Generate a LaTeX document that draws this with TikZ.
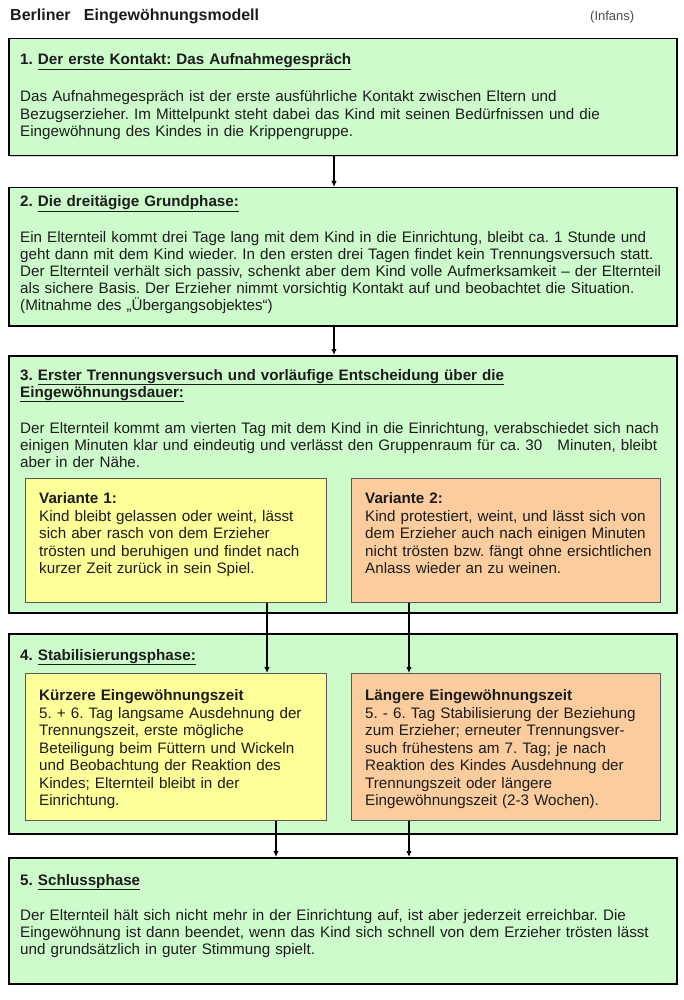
\documentclass[tikz,border=0pt]{standalone}
\usepackage{fontspec}
\setmainfont{Liberation Sans}
\usetikzlibrary{arrows.meta,calc,shadows}
\definecolor{boxgreen}{HTML}{CDFBCB}
\definecolor{boxyellow}{HTML}{FFFF99}
\definecolor{boxorange}{HTML}{FACC9E}
\definecolor{txtcol}{HTML}{1C1C1C}
\frenchspacing
\newcommand\hdline[1]{\leavevmode\vtop{\hbox{\vrule height 0pt depth 3.6pt width 0pt #1}\kern0.2pt\hrule height 1.1pt}}
\tikzset{
  outerbox/.style={draw=black, line width=1.5pt, fill=boxgreen, inner sep=0pt, anchor=north west,
    drop shadow={shadow xshift=1.2pt, shadow yshift=-1.2pt, opacity=0.35}},
  yelbox/.style={draw=black!65, line width=1pt, fill=boxyellow, inner sep=0pt, anchor=north west},
  orabox/.style={draw=black!65, line width=1pt, fill=boxorange, inner sep=0pt, anchor=north west},
  bodytxt/.style={anchor=base west, inner sep=0pt, align=left, text width=650pt, text=txtcol,
    font=\fontsize{15.2}{17.2}\selectfont},
  innertxt/.style={bodytxt, text width=305pt, font=\fontsize{15.2}{17.5}\selectfont},
  headtxt/.style={bodytxt, font=\bfseries\fontsize{15.2}{17.2}\selectfont},
  innerhead/.style={innertxt, font=\bfseries\fontsize{15.2}{17.5}\selectfont},
  arr/.style={line width=2pt, -{Latex[length=6pt,width=5.5pt]}}
}
\begin{document}
\begin{tikzpicture}[x=1pt,y=-1pt]
\useasboundingbox[fill=white] (0,0) rectangle (684,1000);
% title
\node[anchor=base west, inner sep=0pt, text=txtcol, font=\bfseries\fontsize{16}{19}\selectfont] (title) at (10,21) {Berliner\ \ \ Eingewöhnungsmodell};
\node[anchor=base west, inner sep=0pt, text=black!70, font=\fontsize{13}{15}\selectfont] (infans) at (590,21) {(Infans)};
% outer boxes
\node[outerbox, minimum width=668pt, minimum height=117pt] (b1) at (8,38) {};
\node[outerbox, minimum width=668pt, minimum height=138pt] (b2) at (8,187) {};
\node[outerbox, minimum width=668pt, minimum height=257pt] (b3) at (8,355) {};
\node[outerbox, minimum width=668pt, minimum height=200pt] (b4) at (8,633) {};
\node[outerbox, minimum width=668pt, minimum height=126pt] (b5) at (8,857) {};
% inner boxes
\node[yelbox, minimum width=301pt, minimum height=124pt] (v1) at (25,478) {};
\node[orabox, minimum width=309pt, minimum height=124pt] (v2) at (351,478) {};
\node[yelbox, minimum width=301pt, minimum height=147pt] (k1) at (25,673) {};
\node[orabox, minimum width=309pt, minimum height=147pt] (k2) at (351,673) {};
% box 1
\node[headtxt] (h1) at (20,65) {1. \hdline{Der erste Kontakt: Das Aufnahmegespräch}};
\node[bodytxt] (t1) at (20,102) {Das Aufnahmegespräch ist der erste ausführliche Kontakt zwischen Eltern und\\
Bezugserzieher. Im Mittelpunkt steht dabei das Kind mit seinen Bedürfnissen und die\\
Eingewöhnung des Kindes in die Krippengruppe.};
% box 2
\node[headtxt] (h2) at (20,207) {2. \hdline{Die dreitägige Grundphase:}};
\node[bodytxt] (t2) at (20,242) {Ein Elternteil kommt drei Tage lang mit dem Kind in die Einrichtung, bleibt ca. 1 Stunde und\\
geht dann mit dem Kind wieder. In den ersten drei Tagen findet kein Trennungsversuch statt.\\
Der Elternteil verhält sich passiv, schenkt aber dem Kind volle Aufmerksamkeit – der Elternteil\\
als sichere Basis. Der Erzieher nimmt vorsichtig Kontakt auf und beobachtet die Situation.\\
(Mitnahme des „Übergangsobjektes“)};
% box 3
\node[headtxt] (h3) at (20,380) {3. \hdline{Erster Trennungsversuch und vorläufige Entscheidung über die}\\
\hdline{Eingewöhnungsdauer:}};
\node[bodytxt] (t3) at (20,433) {Der Elternteil kommt am vierten Tag mit dem Kind in die Einrichtung, verabschiedet sich nach\\
einigen Minuten klar und eindeutig und verlässt den Gruppenraum für ca. 30\ \ \ Minuten, bleibt\\
aber in der Nähe.};
\node[innerhead] (vh1) at (39,503) {Variante 1:};
\node[innertxt] (vt1) at (39,521) {Kind bleibt gelassen oder weint, lässt\\
sich aber rasch von dem Erzieher\\
trösten und beruhigen und findet nach\\
kurzer Zeit zurück in sein Spiel.};
\node[innerhead] (vh2) at (365,503) {Variante 2:};
\node[innertxt] (vt2) at (365,521) {Kind protestiert, weint, und lässt sich von\\
dem Erzieher auch nach einigen Minuten\\
nicht trösten bzw. fängt ohne ersichtlichen\\
Anlass wieder an zu weinen.};
% box 4
\node[headtxt] (h4) at (20,660) {4. \hdline{Stabilisierungsphase:}};
\node[innerhead] (kh1) at (39,700) {Kürzere Eingewöhnungszeit};
\node[innertxt] (kt1) at (39,718) {5. + 6. Tag langsame Ausdehnung der\\
Trennungszeit, erste mögliche\\
Beteiligung beim Füttern und Wickeln\\
und Beobachtung der Reaktion des\\
Kindes; Elternteil bleibt in der\\
Einrichtung.};
\node[innerhead] (kh2) at (365,700) {Längere Eingewöhnungszeit};
\node[innertxt] (kt2) at (365,718) {5. - 6. Tag Stabilisierung der Beziehung\\
zum Erzieher; erneuter Trennungsver-\\
such frühestens am 7. Tag; je nach\\
Reaktion des Kindes Ausdehnung der\\
Trennungszeit oder längere\\
Eingewöhnungszeit (2-3 Wochen).};
% box 5
\node[headtxt] (h5) at (20,885) {5. \hdline{Schlussphase}};
\node[bodytxt] (t5) at (20,920) {Der Elternteil hält sich nicht mehr in der Einrichtung auf, ist aber jederzeit erreichbar. Die\\
Eingewöhnung ist dann beendet, wenn das Kind sich schnell von dem Erzieher trösten lässt\\
und grundsätzlich in guter Stimmung spielt.};
% connectors
\draw[arr] ($(b1.south west)+(326,0)$) -- ($(b2.north west)+(326,0)$);
\draw[arr] ($(b2.south west)+(326,0)$) -- ($(b3.north west)+(326,0)$);
\draw[arr] ($(v1.south west)+(242,0)$) -- ($(k1.north west)+(242,0)$);
\draw[arr] ($(v2.south west)+(58,0)$) -- ($(k2.north west)+(58,0)$);
\draw[arr] ($(k1.south west)+(251,0)$) -- ($(b5.north west)+(268,0)$);
\draw[arr] ($(k2.south west)+(58,0)$) -- ($(b5.north west)+(401,0)$);
\end{tikzpicture}
\end{document}
